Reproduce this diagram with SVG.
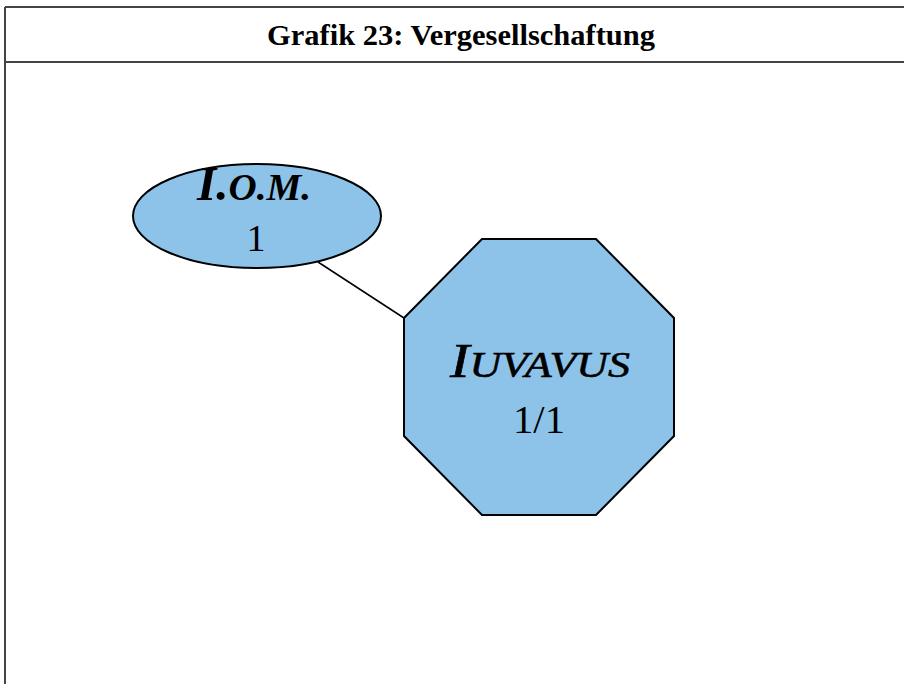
<svg xmlns="http://www.w3.org/2000/svg" width="904" height="684" viewBox="0 0 904 684">
<style>
.frame{stroke:#444;stroke-width:2;fill:none}
.node{fill:#8dc3e8;stroke:#000;stroke-width:2}
.t{font-family:"Liberation Serif","Times New Roman",serif;fill:#000}
</style>
<rect x="0" y="0" width="904" height="684" fill="#fff"/>
<g id="frame">
<line class="frame" x1="5" y1="7" x2="904" y2="7"/>
<line class="frame" x1="5" y1="62" x2="904" y2="62"/>
<line class="frame" x1="5" y1="7" x2="5" y2="684"/>
<text class="t" x="267" y="45" font-size="30" font-weight="bold" textLength="388" lengthAdjust="spacingAndGlyphs">Grafik 23: Vergesellschaftung</text>
</g>
<g id="connectors">
<line x1="318" y1="262" x2="404" y2="318" stroke="#000" stroke-width="1.5"/>
</g>
<g id="node-iom">
<ellipse class="node" cx="257" cy="216" rx="124" ry="52"/>
<text class="t" x="197" y="200" font-weight="bold" font-style="italic" textLength="114" lengthAdjust="spacingAndGlyphs"><tspan font-size="48">I.</tspan><tspan font-size="38">O.M.</tspan></text>
<text class="t" x="256" y="251" text-anchor="middle" font-size="38">1</text>
</g>
<g id="node-iuvavus">
<polygon class="node" points="482,239 596,239 674,318 674,436 596,515 482,515 404,436 404,318"/>
<text class="t" x="450" y="377" font-style="italic" stroke="#000" stroke-width="0.6" textLength="180" lengthAdjust="spacingAndGlyphs"><tspan font-size="48">I</tspan><tspan font-size="36">UVAVUS</tspan></text>
<text class="t" x="513" y="433" font-size="41" textLength="52" lengthAdjust="spacingAndGlyphs">1/1</text>
</g>
</svg>
